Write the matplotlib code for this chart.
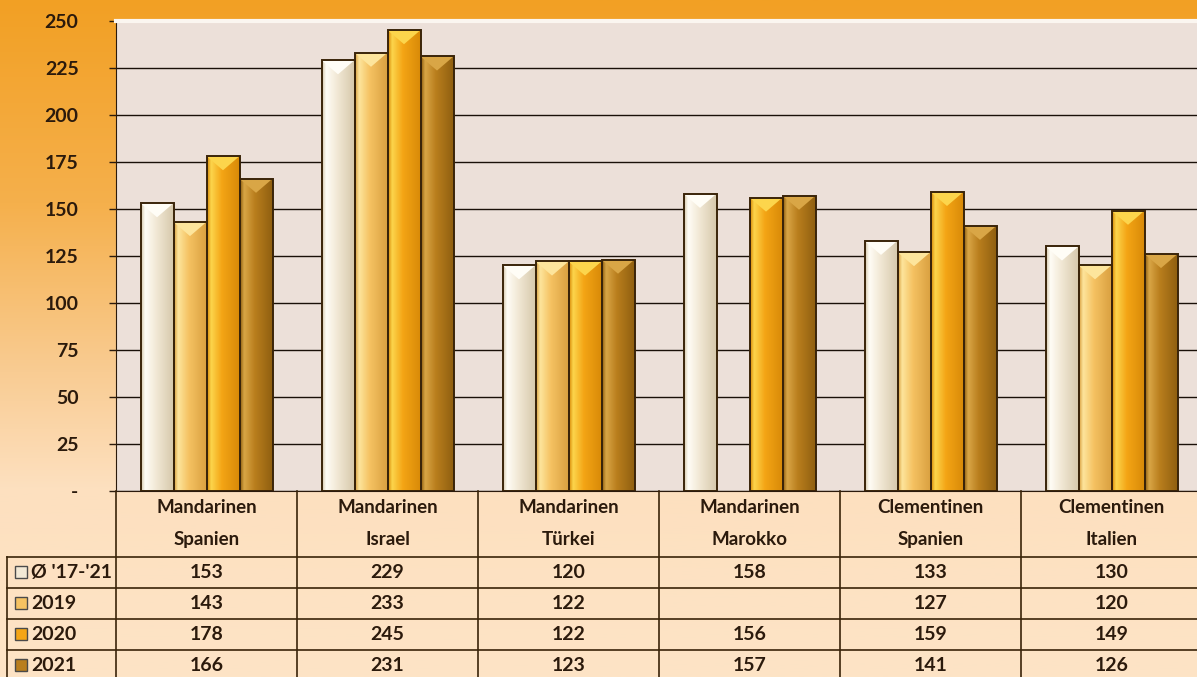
import numpy as np
import matplotlib
matplotlib.use("Agg")
import matplotlib.pyplot as plt
from matplotlib.colors import LinearSegmentedColormap, to_rgb
from matplotlib.patches import Polygon, Rectangle

plt.rcParams['font.family'] = ['Lato', 'DejaVu Sans']

# ---------------- data ----------------
categories = [("Mandarinen", "Spanien"), ("Mandarinen", "Israel"), ("Mandarinen", "Türkei"),
              ("Mandarinen", "Marokko"), ("Clementinen", "Spanien"), ("Clementinen", "Italien")]
series_names = ["Ø '17-'21", "2019", "2020", "2021"]
avg_17_21 = [153, 229, 120, 158, 133, 130]
y2019 = [143, 233, 122, np.nan, 127, 120]
y2020 = [178, 245, 122, 156, 159, 149]
y2021 = [166, 231, 123, 157, 141, 126]
series_values = [avg_17_21, y2019, y2020, y2021]
yticks = [0, 25, 50, 75, 100, 125, 150, 175, 200, 225, 250]
ytick_labels = ["-", "25", "50", "75", "100", "125", "150", "175", "200", "225", "250"]

# ---------------- style ----------------
base_cols = ["#f2e9d6", "#f5c262", "#f4a515", "#b97e1d"]
light_cols = ["#fffdf6", "#fde59c", "#fcd54c", "#d9a646"]
dark_cols = ["#d6c8ab", "#d9a040", "#d88a08", "#8f5f10"]
edge = "#3a2409"
txt = "#2b1a0c"
FS = 14

W, H = 1197, 677
fig = plt.figure(figsize=(W / 100, H / 100), dpi=100)

# background gradient
bg = fig.add_axes([0, 0, 1, 1], zorder=-10)
bg_cmap = LinearSegmentedColormap.from_list(
    "bg", [(0, "#f2a024"), (0.3, "#f5b04c"), (0.55, "#f9cc93"), (0.72, "#fde0bf"), (1, "#fde4c6")])
grad = np.linspace(0, 1, 256).reshape(-1, 1)
bg.imshow(grad, aspect="auto", cmap=bg_cmap, extent=(0, 1, 0, 1), origin="upper")
bg.set_axis_off()

# main axes
ax_left, ax_top, ax_bottom = 116, 20.7, 491
group_px = 181
ax = fig.add_axes([ax_left / W, (H - ax_bottom) / H, (W - ax_left) / W, (ax_bottom - ax_top) / H])
ax.set_facecolor("#ece0d9")
n = len(categories)
x = np.arange(n)
bw = 33 / group_px
offsets = (np.arange(4) - 1.5) * bw
xlim = (-0.5, -0.5 + (W - ax_left) / group_px)
ax.set_xlim(*xlim)
ax.set_ylim(0, 250)
ax.set_yticks(yticks)
ax.set_yticklabels(ytick_labels, fontsize=FS, fontweight="bold", color=txt)
ax.tick_params(axis="y", length=5, width=1, color="#2b1a0c", pad=22)
ax.set_xticks([])
ax.grid(axis="y", color="#1a1008", linewidth=1, zorder=1)
ax.set_axisbelow(True)
ax.spines["right"].set_visible(False)
ax.spines["top"].set_color("#fbf6f0")
ax.spines["top"].set_linewidth(3)
ax.spines["left"].set_color("#2b1a0c")
ax.spines["bottom"].set_color("#2b1a0c")

tri_depth = 7.5
for i, vals in enumerate(series_values):
    bars = ax.bar(x + offsets[i], vals, width=bw, color=base_cols[i], edgecolor="none", zorder=2)
    cmap = LinearSegmentedColormap.from_list(
        f"b{i}", [(0, dark_cols[i]), (0.12, light_cols[i]), (0.45, base_cols[i]), (1, dark_cols[i])])
    for p in bars.patches:
        h = p.get_height()
        if not np.isfinite(h) or h <= 0:
            continue
        x0 = p.get_x()
        x1 = x0 + p.get_width()
        im = ax.imshow(np.linspace(0, 1, 64).reshape(1, -1), cmap=cmap, aspect="auto",
                       extent=(x0, x1, 0, h), zorder=2.1, interpolation="bilinear")
        im.set_clip_path(p)
        tri = Polygon([(x0, h), (x1, h), ((x0 + x1) / 2, h - tri_depth)], closed=True,
                      facecolor=light_cols[i], edgecolor="none", zorder=2.2)
        ax.add_patch(tri)
        ax.add_patch(Rectangle((x0, 0), p.get_width(), h, fill=False, edgecolor=edge,
                               linewidth=1.4, zorder=2.3))
ax.set_xlim(*xlim)
ax.set_ylim(0, 250)

# ---------------- table ----------------
tab = fig.add_axes([0, 0, 1, (H - ax_bottom) / H], zorder=5)
tab.set_axis_off()
tlim = (-0.5 - ax_left / group_px, -0.5 + (W - ax_left) / group_px)
tab.set_xlim(*tlim)
tab.set_ylim(H, ax_bottom)

def px2x(px):
    return -0.5 + (px - ax_left) / group_px

row_lines = [557, 588, 619, 650, 681]
label_left = px2x(7)
for k in range(n + 1):
    tab.plot([k - 0.5, k - 0.5], [ax_bottom, H], color=edge, lw=1.2, clip_on=False)
for yl in row_lines[:-1]:
    tab.plot([label_left, tlim[1]], [yl, yl], color=edge, lw=1.2)
tab.plot([label_left, label_left], [row_lines[0], H], color=edge, lw=1.2)

for j, (l1, l2) in enumerate(categories):
    tab.text(j, 508, l1, ha="center", va="center", fontsize=FS - 0.5, fontweight="bold", color=txt)
    tab.text(j, 540, l2, ha="center", va="center", fontsize=FS - 0.5, fontweight="bold", color=txt)

for i, (name, vals) in enumerate(zip(series_names, series_values)):
    yc = (row_lines[i] + row_lines[i + 1]) / 2
    kx0 = px2x(15)
    kw = 12 / group_px
    tab.add_patch(Rectangle((kx0, yc - 6), kw, 12, facecolor=base_cols[i], edgecolor="#4a4a4a", lw=1))
    tab.text(px2x(31), yc, name, ha="left", va="center", fontsize=FS, fontweight="bold", color=txt)
    for j, v in enumerate(vals):
        if np.isfinite(v):
            tab.text(j, yc, f"{v:.0f}", ha="center", va="center", fontsize=FS,
                     fontweight="bold", color=txt)

fig.savefig("out.png", dpi=100)
